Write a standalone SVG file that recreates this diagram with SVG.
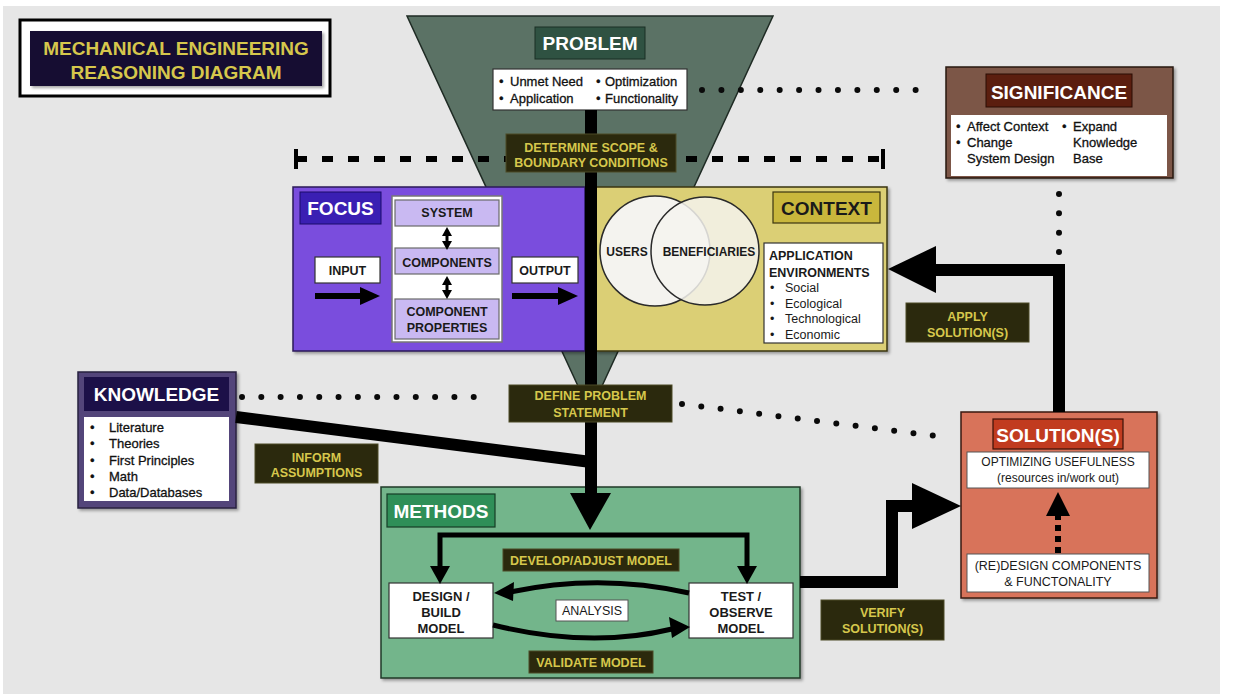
<svg xmlns="http://www.w3.org/2000/svg" width="1241" height="696" viewBox="0 0 1241 696">
<defs>
<filter id="sh" x="-10%" y="-10%" width="130%" height="130%"><feDropShadow dx="2" dy="2" stdDeviation="1.5" flood-color="#000" flood-opacity="0.35"/></filter>
</defs>
<style>
text{font-family:"Liberation Sans",Arial,Helvetica,sans-serif}
.hd{font-size:19px;font-weight:bold;fill:#fff;text-anchor:middle}
.yl{font-size:12.5px;font-weight:bold;fill:#d6c74c;text-anchor:middle}
.lb{fill:#2b290d;stroke:#4d4a26;stroke-width:1}
.wb{fill:#fff;stroke:#333;stroke-width:1.2}
.bk{font-size:12.5px;font-weight:bold;fill:#1a1a1a;text-anchor:middle}
.bk13{font-size:13px;font-weight:bold;fill:#1a1a1a;text-anchor:middle}
.ls{font-size:13px;fill:#111;stroke:#111;stroke-width:0.3}
.rg{font-size:12.5px;fill:#1a1a1a}
.rgc{font-size:12.5px;fill:#1a1a1a;text-anchor:middle}
.dots{fill:none;stroke:#0a0a0a;stroke-width:6;stroke-linecap:round}
.thick{fill:none;stroke:#000;stroke-width:12}
.med{fill:none;stroke:#000;stroke-width:5}
.lav{fill:#c9b9f2;stroke:#6a6a6a;stroke-width:1.2}
</style>

<rect x="0" y="0" width="1241" height="696" fill="#fff"/>
<rect x="3" y="6" width="1217" height="688" fill="#e6e6e6"/>

<g id="title">
<rect x="20" y="20" width="310" height="76" fill="#fff" stroke="#000" stroke-width="3"/>
<rect x="30" y="31" width="292" height="55" fill="#140c30" filter="url(#sh)"/>
<text x="176" y="55" font-size="19" font-weight="bold" fill="#d6c74c" text-anchor="middle">MECHANICAL ENGINEERING</text>
<text x="176" y="79" font-size="19" font-weight="bold" fill="#d6c74c" text-anchor="middle">REASONING DIAGRAM</text>
</g>

<g id="problem">
<polygon points="407,16 773,16 590,412" fill="#5b7265" stroke="#1f2b24" stroke-width="1.5"/>
<rect x="535" y="27" width="110" height="32" fill="#2f5242" stroke="#1b2e25" stroke-width="1"/>
<text x="590" y="50" class="hd">PROBLEM</text>
<rect x="493" y="69" width="194" height="41" class="wb"/>
<text x="499" y="86" class="ls">•</text><text x="510" y="86" class="ls">Unmet Need</text>
<text x="499" y="103" class="ls">•</text><text x="510" y="103" class="ls">Application</text>
<text x="596" y="86" class="ls">•</text><text x="605" y="86" class="ls">Optimization</text>
<text x="596" y="103" class="ls">•</text><text x="605" y="103" class="ls">Functionality</text>
</g>

<g id="scope-line">
<line x1="296" y1="159" x2="882" y2="159" stroke="#000" stroke-width="6" stroke-dasharray="11 15"/>
<line x1="296" y1="149" x2="296" y2="169" stroke="#000" stroke-width="4"/>
<line x1="883" y1="149" x2="883" y2="169" stroke="#000" stroke-width="4"/>
</g>

<g id="focus">
<rect x="293" y="187" width="292" height="164" fill="#7a4edd" stroke="#2b1a5a" stroke-width="1.5" filter="url(#sh)"/>
<rect x="300" y="192" width="81" height="32" fill="#3a1fb3" stroke="#1a0d6a" stroke-width="1"/>
<text x="340.5" y="215" class="hd">FOCUS</text>
<rect x="392" y="196" width="110" height="146" fill="#fff" stroke="#777" stroke-width="1.5"/>
<rect x="395" y="200" width="104" height="26" class="lav"/>
<text x="447" y="217" class="bk">SYSTEM</text>
<rect x="395" y="248" width="104" height="26" class="lav"/>
<text x="447" y="266.5" class="bk">COMPONENTS</text>
<rect x="395" y="299" width="104" height="40" class="lav"/>
<text x="447" y="315.5" class="bk">COMPONENT</text>
<text x="447" y="331.5" class="bk">PROPERTIES</text>
<rect x="315" y="257" width="65" height="26" class="wb"/>
<text x="347.5" y="274.5" class="bk">INPUT</text>
<rect x="512" y="257" width="66" height="26" class="wb"/>
<text x="545" y="274.5" class="bk">OUTPUT</text>
</g>

<g id="context">
<rect x="596" y="187" width="291" height="164" fill="#dbcf74" stroke="#3b3510" stroke-width="1.5" filter="url(#sh)"/>
<rect x="773" y="192" width="107" height="31" fill="#c9b73c" stroke="#3b3510" stroke-width="1.2"/>
<text x="826.5" y="215" class="hd" style="fill:#1a1a1a">CONTEXT</text>
<circle cx="655" cy="251" r="55" fill="#f4f3ef" stroke="#2a2a2a" stroke-width="1.5"/>
<circle cx="705" cy="251" r="54" fill="#f4f3ef" fill-opacity="0.85" stroke="#2a2a2a" stroke-width="1.5"/>
<text x="627" y="255.5" font-size="12" font-weight="bold" fill="#1a1a1a" text-anchor="middle">USERS</text>
<text x="709" y="255.5" font-size="12" font-weight="bold" fill="#1a1a1a" text-anchor="middle">BENEFICIARIES</text>
<rect x="764" y="243" width="119" height="100" class="wb"/>
<text x="769" y="260" font-size="12.5" font-weight="bold" fill="#1a1a1a">APPLICATION</text>
<text x="769" y="276.5" font-size="12.5" font-weight="bold" fill="#1a1a1a">ENVIRONMENTS</text>
<text x="770" y="292" class="rg">•</text><text x="785" y="292" class="rg">Social</text>
<text x="770" y="308" class="rg">•</text><text x="785" y="308" class="rg">Ecological</text>
<text x="770" y="323" class="rg">•</text><text x="785" y="323" class="rg">Technological</text>
<text x="770" y="338.5" class="rg">•</text><text x="785" y="338.5" class="rg">Economic</text>
</g>

<g id="significance">
<rect x="946" y="67" width="227" height="111" fill="#7b5646" stroke="#2a1a12" stroke-width="1.5" filter="url(#sh)"/>
<rect x="986" y="74" width="146" height="33" fill="#5b1e0f" stroke="#2a0d05" stroke-width="1"/>
<text x="1059" y="99" class="hd">SIGNIFICANCE</text>
<rect x="951" y="115" width="216" height="61" fill="#fff"/>
<text x="956" y="131" class="ls">•</text><text x="967" y="131" class="ls">Affect Context</text>
<text x="956" y="147" class="ls">•</text><text x="967" y="147" class="ls">Change</text>
<text x="967" y="163" class="ls">System Design</text>
<text x="1062" y="131" class="ls">•</text><text x="1073" y="131" class="ls">Expand</text>
<text x="1073" y="147" class="ls">Knowledge</text>
<text x="1073" y="163" class="ls">Base</text>
</g>

<g id="knowledge">
<rect x="78" y="372" width="158" height="136" fill="#53457a" stroke="#2a2140" stroke-width="1.5" filter="url(#sh)"/>
<rect x="84" y="377" width="145" height="34" fill="#1c1048"/>
<text x="156.5" y="401" class="hd">KNOWLEDGE</text>
<rect x="84" y="417" width="145" height="84" fill="#fff"/>
<text x="90" y="432" class="ls">•</text><text x="109" y="432" class="ls">Literature</text>
<text x="90" y="448" class="ls">•</text><text x="109" y="448" class="ls">Theories</text>
<text x="90" y="465" class="ls">•</text><text x="109" y="465" class="ls">First Principles</text>
<text x="90" y="481" class="ls">•</text><text x="109" y="481" class="ls">Math</text>
<text x="90" y="497" class="ls">•</text><text x="109" y="497" class="ls">Data/Databases</text>
</g>

<g id="methods">
<rect x="381" y="487" width="419" height="191" fill="#73b58b" stroke="#1f3a28" stroke-width="1.5" filter="url(#sh)"/>
<rect x="387" y="494" width="108" height="33" fill="#2f8f58" stroke="#163d26" stroke-width="1.2"/>
<text x="441" y="518" class="hd">METHODS</text>
<rect x="389" y="583" width="104" height="55" class="wb"/>
<text x="441" y="600.5" class="bk13">DESIGN /</text>
<text x="441" y="616.5" class="bk13">BUILD</text>
<text x="441" y="632.5" class="bk13">MODEL</text>
<rect x="689" y="583" width="104" height="55" class="wb"/>
<text x="741" y="600.5" class="bk13">TEST /</text>
<text x="741" y="616.5" class="bk13">OBSERVE</text>
<text x="741" y="632.5" class="bk13">MODEL</text>
<rect x="556" y="600" width="72" height="21" fill="#fff" stroke="#555" stroke-width="1"/>
<text x="592" y="615" class="rgc">ANALYSIS</text>
</g>

<g id="solution">
<rect x="961" y="412" width="196" height="186" fill="#d8735a" stroke="#3a1a10" stroke-width="1.5" filter="url(#sh)"/>
<rect x="993" y="419" width="130" height="30" fill="#c13b1f" stroke="#3a1208" stroke-width="1.2"/>
<text x="1058" y="442" class="hd">SOLUTION(S)</text>
<rect x="967" y="452" width="182" height="36" fill="#fff" stroke="#555" stroke-width="1"/>
<text x="1058" y="466" font-size="12" fill="#1a1a1a" text-anchor="middle">OPTIMIZING USEFULNESS</text>
<text x="1058" y="482" font-size="12" fill="#1a1a1a" text-anchor="middle">(resources in/work out)</text>
<rect x="967" y="554" width="182" height="38" fill="#fff" stroke="#555" stroke-width="1"/>
<text x="1058" y="570" class="rgc">(RE)DESIGN COMPONENTS</text>
<text x="1058" y="586" class="rgc">&amp; FUNCTONALITY</text>
</g>

<g id="connectors">
<line x1="702" y1="90" x2="935" y2="90" class="dots" stroke-dasharray="0 19.42"/>
<line x1="1059" y1="194" x2="1059" y2="252" class="dots" stroke-dasharray="0 19.33"/>
<line x1="242" y1="397" x2="493" y2="397" class="dots" stroke-dasharray="0 19.31"/>
<line x1="682" y1="404" x2="952" y2="438" class="dots" stroke-dasharray="0 19.44"/>
<line x1="591" y1="110" x2="591" y2="496" class="thick"/>
<polygon points="570,493 611,493 590,530" fill="#000"/>
<line x1="236" y1="417" x2="591" y2="462" class="thick"/>
<line x1="315" y1="296" x2="362" y2="296" stroke="#000" stroke-width="6"/>
<polygon points="360,287 360,305 380,296" fill="#000"/>
<line x1="512" y1="296" x2="560" y2="296" stroke="#000" stroke-width="6"/>
<polygon points="558,287 558,305 578,296" fill="#000"/>
<line x1="447" y1="234" x2="447" y2="243" stroke="#000" stroke-width="3"/>
<polygon points="442,236 452,236 447,227" fill="#000"/>
<polygon points="442,241 452,241 447,250" fill="#000"/>
<line x1="447" y1="283" x2="447" y2="292" stroke="#000" stroke-width="3"/>
<polygon points="442,285 452,285 447,276" fill="#000"/>
<polygon points="442,290 452,290 447,299" fill="#000"/>
<path d="M440,570 V535 H747 V570" class="med"/>
<polygon points="430,566 450,566 440,584" fill="#000"/>
<polygon points="737,566 757,566 747,584" fill="#000"/>
<path d="M689,593 Q600,573 510,592" class="med"/>
<polygon points="494,593 514,582 513,601" fill="#000"/>
<path d="M493,625 Q590,649 672,629" class="med"/>
<polygon points="690,627 669,617 672,638" fill="#000"/>
<path d="M800,582 H892 V506 H915" class="thick"/>
<polygon points="912,483 912,529 961,506" fill="#000"/>
<path d="M1059,412 V270 H933" class="thick"/>
<polygon points="936,246 936,293 888,269" fill="#000"/>
<line x1="1058" y1="553" x2="1058" y2="515" stroke="#000" stroke-width="6" stroke-dasharray="6 5"/>
<polygon points="1046,516 1070,516 1058,492" fill="#000"/>
</g>

<g id="edge-labels">
<rect x="506" y="134" width="170" height="38" class="lb"/>
<text x="591" y="151.5" class="yl">DETERMINE SCOPE &amp;</text>
<text x="591" y="166.5" class="yl">BOUNDARY CONDITIONS</text>
<rect x="509" y="385" width="163" height="37" class="lb"/>
<text x="590.5" y="400" class="yl">DEFINE PROBLEM</text>
<text x="590.5" y="416.5" class="yl">STATEMENT</text>
<rect x="255" y="444" width="123" height="39" class="lb"/>
<text x="316.5" y="461.5" class="yl">INFORM</text>
<text x="316.5" y="476.5" class="yl">ASSUMPTIONS</text>
<rect x="503" y="549" width="176" height="22" class="lb"/>
<text x="591" y="564.5" class="yl">DEVELOP/ADJUST MODEL</text>
<rect x="529" y="651" width="124" height="22" class="lb"/>
<text x="591" y="666.5" class="yl">VALIDATE MODEL</text>
<rect x="821" y="600" width="123" height="40" class="lb"/>
<text x="882.5" y="616.5" class="yl">VERIFY</text>
<text x="882.5" y="632.5" class="yl">SOLUTION(S)</text>
<rect x="906" y="303" width="123" height="39" class="lb"/>
<text x="967.5" y="320.5" class="yl">APPLY</text>
<text x="967.5" y="336.5" class="yl">SOLUTION(S)</text>
</g>
</svg>
